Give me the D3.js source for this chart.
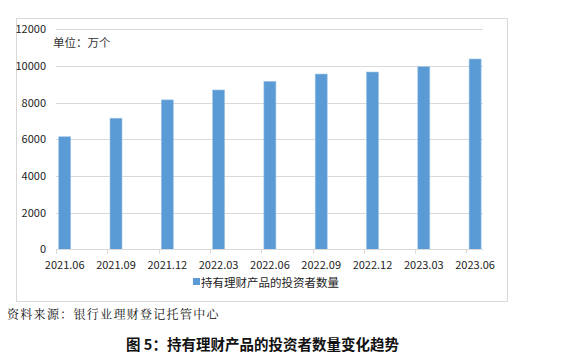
<!DOCTYPE html>
<html lang="zh">
    <head>
        <meta charset="UTF-8" />
        <title>持有理财产品的投资者数量变化趋势</title>
        <style>
            body { margin: 0; background: #fff; }
        </style>
    </head>
    <body>
        <div id="main"></div>
        <script src="https://cdn.jsdelivr.net/npm/d3@7/dist/d3.min.js"></script>
        <script>
            const periods = ["2021.06", "2021.09", "2021.12", "2022.03", "2022.06", "2022.09", "2022.12", "2023.03", "2023.06"]
            const investors = [6140, 7150, 8150, 8690, 9160, 9560, 9670, 9960, 10380]
            const yTicks = [0, 2000, 4000, 6000, 8000, 10000, 12000]
            const seriesName = "持有理财产品的投资者数量"
            const unitText = "单位：万个"
            const sourceText = "资料来源：银行业理财登记托管中心"
            const titleText = "图 5：持有理财产品的投资者数量变化趋势"

            const svgWidth = 562
            const svgHeight = 362
            const fontFamily = "'Microsoft YaHei', 'Noto Sans CJK SC', sans-serif"
            const barColor = "#5B9BD5"

            const svg = d3.select("#main")
                .append("svg")
                .attr("width", svgWidth)
                .attr("height", svgHeight)

            // chart frame
            svg.append("rect")
                .attr("x", 16.5)
                .attr("y", 18.5)
                .attr("width", 491)
                .attr("height", 283)
                .attr("fill", "#fff")
                .attr("stroke", "#d9d9d9")

            const x = d3.scaleBand()
                .domain(periods)
                .range([56, 56 + 51.3 * periods.length])
            const y = d3.scaleLinear()
                .domain([0, 12000])
                .range([249.3, 29.3])

            // gridlines
            svg.append("g")
                .selectAll("line")
                .data(yTicks.slice(1))
                .enter()
                .append("line")
                .attr("x1", 56)
                .attr("x2", 483)
                .attr("y1", (d) => Math.round(y(d)) + 0.5)
                .attr("y2", (d) => Math.round(y(d)) + 0.5)
                .attr("stroke", "#d9d9d9")
                .attr("stroke-width", 1)

            // y labels
            svg.append("g")
                .selectAll("text")
                .data(yTicks)
                .enter()
                .append("text")
                .attr("x", 46)
                .attr("y", (d) => y(d) + 4)
                .attr("text-anchor", "end")
                .attr("font-size", 11)
                .attr("font-family", fontFamily)
                .attr("fill", "#222")
                .text((d) => d)

            // bars
            const barW = 12
            svg.append("g")
                .selectAll("rect")
                .data(investors)
                .enter()
                .append("rect")
                .attr("x", (d, i) => x(periods[i]) + 2.7)
                .attr("y", (d) => y(d))
                .attr("width", barW)
                .attr("height", (d) => y(0) - y(d))
                .attr("fill", barColor)
                .attr("stroke", "#9dc3e6")
                .attr("stroke-width", 0.6)

            // x axis line and ticks
            const axisY = Math.round(y(0)) + 0.5
            svg.append("line")
                .attr("x1", 56)
                .attr("x2", 483)
                .attr("y1", axisY)
                .attr("y2", axisY)
                .attr("stroke", "#d9d9d9")
            svg.append("g")
                .selectAll("line")
                .data(periods)
                .enter()
                .append("line")
                .attr("x1", (d) => Math.round(x(d)) + 0.5)
                .attr("x2", (d) => Math.round(x(d)) + 0.5)
                .attr("y1", axisY)
                .attr("y2", axisY + 4)
                .attr("stroke", "#d9d9d9")

            // x labels
            svg.append("g")
                .selectAll("text")
                .data(periods)
                .enter()
                .append("text")
                .attr("x", (d) => x(d) + 2.7 + barW / 2)
                .attr("y", 269)
                .attr("text-anchor", "middle")
                .attr("font-size", 11)
                .attr("font-family", fontFamily)
                .attr("fill", "#222")
                .text((d) => d)

            // unit
            svg.append("text")
                .attr("x", 53)
                .attr("y", 47)
                .attr("font-size", 11.5)
                .attr("font-family", fontFamily)
                .attr("fill", "#333")
                .text(unitText)

            // legend
            svg.append("rect")
                .attr("x", 193)
                .attr("y", 278)
                .attr("width", 7)
                .attr("height", 7)
                .attr("fill", barColor)
            svg.append("text")
                .attr("x", 201)
                .attr("y", 286.5)
                .attr("font-size", 11.5)
                .attr("font-family", fontFamily)
                .attr("fill", "#222")
                .text(seriesName)

            // source
            svg.append("text")
                .attr("x", 7)
                .attr("y", 318.5)
                .attr("font-size", 12)
                .attr("letter-spacing", 1.3)
                .attr("font-family", "'Noto Serif CJK SC', 'Noto Sans CJK SC', serif")
                .attr("fill", "#111")
                .text(sourceText)

            // title
            svg.append("text")
                .attr("x", 262.5)
                .attr("y", 349.5)
                .attr("text-anchor", "middle")
                .attr("font-size", 14.5)
                .attr("font-weight", 700)
                .attr("font-family", fontFamily)
                .attr("fill", "#111")
                .text(titleText)
        </script>
    </body>
</html>
